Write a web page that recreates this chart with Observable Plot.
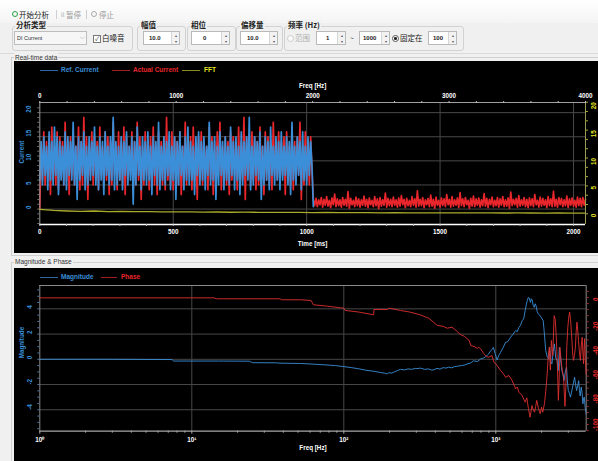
<!DOCTYPE html>
<html><head><meta charset="utf-8">
<script src="https://cdn.jsdelivr.net/npm/d3@7"></script>
<script src="https://cdn.jsdelivr.net/npm/@observablehq/plot@0.6"></script>
<style>
html,body{margin:0;padding:0}
body{width:598px;height:461px;overflow:hidden;background:#f0f0f0;position:relative;font-family:"Noto Sans CJK SC","Liberation Sans",sans-serif}
.a{position:absolute;white-space:nowrap;line-height:10px}
.grp{position:absolute;border:1px solid #d2d2d2;border-radius:3px;top:26px;height:23px}
.gl{position:absolute;top:20px;font-size:7.5px;font-weight:bold;color:#222;background:#f0f0f0;padding:0 1px;line-height:10px;white-space:nowrap}
.spin{position:absolute;top:31px;height:14px;border:1px solid #b9b9b9;background:#fff;box-sizing:border-box}
.spin span{position:absolute;top:1px;font:bold 6px "Liberation Sans",sans-serif;line-height:10px;color:#222}
.spin i{position:absolute;right:0;top:0;width:7px;height:12px;border-left:1px solid #d6d6d6;background:#f2f2f2;font-style:normal;font-size:4px;line-height:6px;text-align:center;color:#555}
.leg{position:absolute;font:bold 6.5px "Liberation Sans",sans-serif;line-height:8px;white-space:nowrap}
.ll{position:absolute;height:1px;width:18px}
</style></head><body>
<!-- toolbar -->
<div class="a" style="left:0;top:0;width:598px;height:23px;background:linear-gradient(#ffffff,#f4f4f4)"></div>
<div class="a" style="left:12px;top:11px;width:4px;height:4px;border:1.5px solid #26a146;border-radius:50%"></div>
<div class="a" style="left:19px;top:9.5px;font-size:7.5px;color:#222">开始分析</div>
<div class="a" style="left:56px;top:10px;width:1px;height:9px;background:#cfcfcf"></div>
<div class="a" style="left:61px;top:9.5px;font-size:6px;color:#aaa">ll</div>
<div class="a" style="left:66px;top:9.5px;font-size:7.5px;color:#999">暂停</div>
<div class="a" style="left:86px;top:10px;width:1px;height:9px;background:#cfcfcf"></div>
<div class="a" style="left:91px;top:11px;width:4px;height:4px;border:1.2px solid #aaa;border-radius:50%"></div>
<div class="a" style="left:99px;top:9.5px;font-size:7.5px;color:#999">停止</div>

<div class="grp" style="left:12px;width:119px"></div>
<div class="gl" style="left:15px">分析类型</div>
<div class="a" style="left:14px;top:31px;width:73px;height:14px;border:1px solid #bdbdbd;background:#f6f6f6;box-sizing:border-box"></div>
<div class="a" style="left:17px;top:33px;font:5.5px 'Liberation Sans',sans-serif;line-height:10px;color:#333">DI Current</div>
<div class="a" style="left:80px;top:32px;font-size:6px;color:#888">⌵</div>
<div class="a" style="left:93px;top:35px;width:6px;height:6px;border:1px solid #777;background:#fff;font-size:6px;line-height:6px;text-align:center;color:#333">✓</div>
<div class="a" style="left:102px;top:33px;font-size:7.5px;color:#222">白噪音</div>

<div class="grp" style="left:137px;width:47px"></div>
<div class="gl" style="left:140px">幅值</div>
<div class="spin" style="left:143px;width:37px"><span style="left:5px">10.0</span><i>▴<br>▾</i></div>

<div class="grp" style="left:187px;width:47px"></div>
<div class="gl" style="left:190px">相位</div>
<div class="spin" style="left:191px;width:39px"><span style="left:11px">0</span><i>▴<br>▾</i></div>

<div class="grp" style="left:236px;width:45px"></div>
<div class="gl" style="left:240px">偏移量</div>
<div class="spin" style="left:240px;width:38px"><span style="left:6px">10.0</span><i>▴<br>▾</i></div>

<div class="grp" style="left:284px;width:178px"></div>
<div class="gl" style="left:287px">频率 (Hz)</div>
<div class="a" style="left:287px;top:35px;width:5px;height:5px;border:1px solid #ccc;border-radius:50%;background:#fafafa"></div>
<div class="a" style="left:295px;top:33px;font-size:7.5px;color:#b0b0b0">范围</div>
<div class="spin" style="left:316px;width:30px"><span style="left:9px">1</span><i>▴<br>▾</i></div>
<div class="a" style="left:350px;top:33px;font-size:7px;color:#444">~</div>
<div class="spin" style="left:359px;width:31px"><span style="left:3px">1000</span><i>▴<br>▾</i></div>
<div class="a" style="left:392px;top:35px;width:5px;height:5px;border:1px solid #555;border-radius:50%;background:#fff"></div>
<div class="a" style="left:394.2px;top:37.2px;width:2.6px;height:2.6px;border-radius:50%;background:#222"></div>
<div class="a" style="left:400px;top:33px;font-size:7.5px;color:#222">固定在</div>
<div class="spin" style="left:428px;width:29px"><span style="left:4px">100</span><i>▴<br>▾</i></div>

<div class="a" style="left:0;top:53px;width:598px;height:1px;background:#dadada"></div>

<!-- panels -->
<div class="a" style="left:11px;top:57px;width:600px;height:199px;border:1px solid #d0d0d0;box-sizing:border-box"></div>
<div class="a" style="left:14px;top:52.5px;font:6.5px 'Liberation Sans',sans-serif;line-height:10px;color:#333;background:#f0f0f0;padding:0 1px">Real-time data</div>
<div class="a" style="left:14px;top:61px;width:584px;height:192px;background:#000"></div>

<div class="a" style="left:11px;top:262px;width:600px;height:210px;border:1px solid #d0d0d0;box-sizing:border-box"></div>
<div class="a" style="left:14px;top:257px;font:6.5px 'Liberation Sans',sans-serif;line-height:10px;color:#333;background:#f0f0f0;padding:0 1px">Magnitude &amp; Phase</div>
<div class="a" style="left:14px;top:268px;width:584px;height:193px;background:#000"></div>

<!-- legends -->
<div class="ll" style="left:40px;top:70px;background:#2d67a3"></div>
<div class="leg" style="left:61px;top:66px;color:#3a8fd8">Ref. Current</div>
<div class="ll" style="left:112px;top:70px;background:#a11f22"></div>
<div class="leg" style="left:133px;top:66px;color:#e8262b">Actual Current</div>
<div class="ll" style="left:182px;top:70px;background:#8a8a22"></div>
<div class="leg" style="left:204px;top:66px;color:#e6e622">FFT</div>

<div class="ll" style="left:40px;top:277px;background:#2d67a3"></div>
<div class="leg" style="left:61px;top:273px;color:#3a8fd8">Magnitude</div>
<div class="ll" style="left:101px;top:277px;width:16px;background:#a11f22"></div>
<div class="leg" style="left:121px;top:273px;color:#e8262b">Phase</div>

<script>
// ---------- Real-time data ----------
const dt = 5; // ms between samples
const refCurrent = [
6,14,5,15,7,13,4,16,6,14,5,17,7,15,3,14,6,13,5,16,
4,15,7,14,6,18,5,13,2,15,6,14,7,16,4,13,5,15,6,14,
7,17,5,13,4,15,6,14,3,16,7,13,5,15,6,19,4,14,5,13,
6,15,4,14,7,16,5,13,6,15,1,14,5,17,7,13,4,15,6,14,
5,16,6,13,3,15,7,14,5,18,4,13,6,15,5,14,7,16,4,13,
6,15,2,14,5,16,7,13,4,15,6,17,5,14,6,13,3,15,7,16,
5,14,6,15,4,13,7,18,5,14,6,15,2,13,5,16,7,14,4,15,
6,13,5,17,7,14,4,15,6,13,3,16,5,14,7,15,6,19,4,13,
5,15,7,14,6,16,2,13,5,15,6,14,4,17,7,13,5,15,6,14,
4,16,6,13,7,15,5,14,3,18,6,13,5,15,7,14,4,16,6,13,
5,15,7,14,9,0.5];
const actualHigh = [
0,13,6,16,5,14,7,15,3,17,6,13,5,16,4,15,7,14,5,18,
6,14,3,15,7,16,5,13,6,17,4,14,5,19,6,15,2,13,7,16,
5,15,6,14,4,17,7,13,5,16,6,15,3,14,5,18,7,13,4,16,
6,14,5,17,3,15,6,13,7,16,4,14,5,18,6,15,2,13,5,16,
7,14,4,15,6,17,5,13,3,16,7,14,5,15,4,19,6,13,5,16,
4,15,7,14,5,16,3,13,6,18,5,14,7,15,4,17,6,13,2,15,
6,16,5,14,7,13,4,17,6,15,3,14,5,16,7,18,4,13,6,15,
5,14,3,16,6,15,7,13,4,17,5,14,6,19,2,15,7,13,5,16,
6,15,4,14,5,17,7,13,3,16,6,15,5,14,4,18,7,13,6,16,
5,14,7,15,3,16,6,13,5,17,4,14,6,15,7,18,2,13,5,16,
6,14,5,15,8,2];
const actualLow = [
0.7,2.2,0.5,1.9,0.9,2.4,0.4,2.0,0.8,2.6,0.6,1.8,0.3,2.3,0.9,3.1,0.5,2.1,0.7,1.9,
0.4,2.4,0.8,2.0,0.6,3.6,0.2,2.2,0.9,1.8,0.5,2.5,0.7,2.1,0.4,1.9,0.8,2.7,0.6,2.0,
0.3,2.3,0.9,1.8,0.5,2.6,0.7,2.1,0.1,2.4,0.6,1.9,0.8,3.3,0.4,2.2,0.7,2.0,0.5,2.5,
0.8,1.9,0.4,2.3,0.6,2.8,0.9,2.0,0.3,2.2,0.7,1.8,0.5,2.6,0.8,2.1,0.4,3.8,0.6,2.0,
0.7,2.4,0.3,1.9,0.9,2.2,0.5,2.9,0.6,2.0,0.2,2.5,0.8,1.8,0.4,2.3,0.7,2.1,0.5,3.0,
0.9,2.0,0.4,2.6,0.6,1.9,0.8,2.3,0.3,3.4,0.7,2.1,0.5,2.4,0.9,1.8,0.2,2.2,0.6,2.7,
0.5,2.1,0.8,2.3,0.4,1.9,0.7,3.2,0.6,2.2,0.3,2.0,0.9,2.5,0.5,1.8,0.7,2.4,0.4,2.1,
0.8,2.6,0.5,1.9,0.6,2.3,0.2,3.5,0.7,2.0,0.9,2.2,0.4,2.8,0.6,1.9,0.8,2.4,0.5,2.0,
0.3,2.3,0.7,2.1,0.5,3.0,0.9,1.8,0.4,2.5,0.6,2.2,0.8,1.9,0.3,2.6,0.7,2.1,0.5,3.7,
0.6,2.0,0.4,2.4,0.9,2.2,0.5,1.9,0.7,2.7,0.3,2.1,0.8,2.3,0.6,1.8,0.4,2.5,0.7,2.2,
0.5,2.4,0.8,2.0];
const fftStep = 100; // Hz between FFT bins
const fftValues = [0.8,0.6,0.5,0.45,0.5,0.4,0.42,0.38,0.4,0.35,0.36,0.33,0.3,0.32,0.28,0.3,0.27,0.25,0.26,0.24,0.22,0.23,0.2,0.21,0.2,0.18,0.19,0.17,0.18,0.16,0.17,0.15,0.16,0.15,0.14,0.15,0.14,0.13,0.14,0.13,0.12];
const timeTicks = [0,500,1000,1500,2000];
const currentTicks = [0,5,10,15,20];
const freqTicks = [0,1000,2000,3000,4000];
const fftTicks = [0,5,10,15,20];

// ---------- Magnitude & Phase ----------
const magFreq = [1,3,7.4,7.6,15,24,25,36,37,45,52,62,75,88,100,112,125,142,158,175,186,193,198,205,215,225,236,250,265,280,295,303,320,340,360,380,392,410,430,450,470,490,512,535,560,595,620,648,680,716,755,795,830,858,895,926,950,964,990,1020,1045,1075,1110,1160,1200,1250,1300,1350,1385,1420,1455,1490,1525,1560,1585,1610,1635,1660,1690,1712,1735,1760,1790,1815,1840,1870,1900,1945,1990,2050,2080,2130,2180,2230,2260,2300,2340,2385,2430,2480,2530,2575,2620,2670,2720,2765,2810,2865,2920,2960,3000,3050,3100,3150,3200,3250,3300,3350,3400,3455,3510,3550,3590,3650,3700,3740,3780,3820,3870,3930];
const magnitude = [0,0,-0.02,-0.14,-0.14,-0.15,-0.27,-0.28,-0.3,-0.32,-0.33,-0.38,-0.44,-0.5,-0.58,-0.66,-0.75,-0.88,-0.95,-1.05,-1.1,-1.16,-1.05,-1.1,-1.0,-0.9,-0.8,-0.84,-0.76,-0.8,-0.72,-0.74,-0.7,-0.8,-0.76,-0.86,-0.82,-0.72,-0.78,-0.66,-0.7,-0.62,-0.68,-0.58,-0.55,-0.5,-0.46,-0.37,-0.3,-0.12,-0.18,0.03,0.1,0.21,0.4,0.69,0.8,0.95,0.45,-0.05,0.3,0.55,0.85,1.35,1.4,1.74,2.0,2.27,2.2,2.53,2.7,3.06,3.2,3.85,4.3,4.65,4.9,4.86,4.51,4.8,4.7,4.3,4.12,4.4,4.25,3.8,3.6,3.5,3.33,3.06,2.27,0.69,0.2,0.03,0.95,-0.2,-0.37,0.6,1.22,0.1,-0.1,-0.9,0.95,0.0,-0.9,-1.2,-1.69,-1.0,-0.63,-1.8,-2.48,-2.7,-3.0,-2.6,-2.2,-1.8,-1.43,-2.0,-2.48,-2.1,-1.69,-2.5,-2.9,-2.2,-2.7,-3.53,-3.1,-3.0,-3.8,-4.3];
const phaseFreq = [1,14,14.5,38,39,52,61,63,78,95,100,102,125,157,158,193,198,236,273,318,364,412,450,479,515,550,583,620,668,684,720,755,772,800,835,870,900,945,970,1000,1020,1075,1120,1160,1220,1280,1350,1385,1420,1490,1525,1560,1600,1640,1680,1730,1765,1800,1830,1860,1910,1960,2000,2035,2090,2130,2170,2210,2250,2285,2320,2370,2420,2460,2500,2540,2580,2610,2640,2680,2720,2790,2850,2890,2930,2975,3020,3060,3100,3150,3200,3240,3290,3340,3380,3420,3460,3500,3550,3600,3650,3700,3740,3780,3810,3840,3880,3930];
const phase = [-0.3,-0.3,-1.1,-1.1,-1.9,-1.9,-2.5,-6,-7.2,-8.5,-8.8,-10.7,-12,-14.3,-9.9,-9.9,-8.8,-10.7,-12.1,-14.3,-17.3,-23.1,-23.8,-25.4,-24.5,-27.5,-30.5,-32,-35.5,-39.7,-40.5,-42,-41,-43,-46.5,-49,-49.3,-48,-53.5,-54.8,-56.2,-60.3,-63,-65.9,-64.5,-68.6,-75.5,-74,-78.3,-81,-84,-86.5,-83,-92,-98.9,-89.3,-93,-94.8,-90,-85,-92,-96,-90.6,-94.8,-87.8,-78,-65.9,-50,-41,-60,-35.5,-48,-15,-18,-32.8,-55,-85,-68.6,-41,-50,-57.6,-66,-90,-74.1,-41,-25,-16.3,-12.1,-18,-30,-45,-52,-48,-41,-28,-20.4,-27,-35.5,-45,-52,-40,-32.8,-45,-54.8,-42,-34,-50,-63.3];
const magTicks = [-4,-2,0,2,4];
const phaseTicks = [0,-20,-40,-60,-80,-100];
const decadeTicks = [1,10,100,1000];
const decadeLabels = ["10⁰","10¹","10²","10³"];

// ---------- drawing ----------
const blue = "#3a8fd8", red = "#e8262b", yellowTxt = "#e6e622", gridC = "#484848";
const font = {fontFamily:"'Liberation Sans', Arial, sans-serif", fontSize:"6.3px", fontWeight:"bold", background:"transparent", overflow:"visible", maxWidth:"none"};
function place(svg, left, top){ svg.style.position="absolute"; svg.style.left=left+"px"; svg.style.top=top+"px"; document.body.appendChild(svg); }

const refRows = refCurrent.map((v,i)=>({t:i*dt, v}));
const actRows = actualHigh.concat(actualLow).map((v,i)=>({t:i*dt, v}));
const fftRows = fftValues.map((v,i)=>({f:i*fftStep, v}));
const magRows = magFreq.map((f,i)=>({f, v:magnitude[i]}));
const phRows = phaseFreq.map((f,i)=>({f, v:phase[i]}));

const top1 = {width:584, height:192, marginLeft:25.3, marginRight:13, marginTop:41, marginBottom:29};
const tDom=[0,2045], cDom=[-3.2,22.1];
const tb = Plot.plot({...top1, style:font,
  x:{domain:tDom, axis:null}, y:{domain:cDom, axis:null},
  marks:[
    Plot.ruleY(currentTicks,{stroke:gridC}),
    Plot.ruleX(timeTicks.filter(d=>d>0),{stroke:gridC}),
    Plot.line(actRows,{x:"t",y:"v",stroke:red,strokeWidth:1.7}),
    Plot.line(refRows,{x:"t",y:"v",stroke:blue,strokeWidth:1.7}),
    Plot.ruleX([tDom[0]],{stroke:"#9a9a9a"}),
    Plot.ruleY([cDom[1]],{stroke:"#a0a0a0"}),
    Plot.ruleY([cDom[0]],{stroke:"#ffffff",strokeWidth:1.4}),
    Plot.axisX(d3.range(0,2001,100),{anchor:"bottom",tickSize:2,tickFormat:()=>"",stroke:"#bbb",label:null}),
    Plot.axisY(d3.range(-3,22,1),{anchor:"left",tickSize:2,tickFormat:()=>"",stroke:"#777",label:null}),
    Plot.text(timeTicks,{x:d=>d,text:d=>String(d),frameAnchor:"bottom",dy:9,fill:"#fff"}),
    Plot.text(["Time [ms]"],{text:d=>d,frameAnchor:"bottom",dy:21,fill:"#fff"}),
    Plot.text(currentTicks,{y:d=>d,text:d=>String(d),frameAnchor:"left",dx:-10.6,rotate:-90,fill:blue}),
    Plot.text(["Current"],{text:d=>d,frameAnchor:"left",dx:-17.5,rotate:-90,fill:blue})
  ]});
place(tb,14,61);

const fb = Plot.plot({...top1, style:font,
  x:{domain:[0,4000], axis:null}, y:{domain:[-1.92,19.95], axis:null},
  marks:[
    Plot.line(fftRows,{x:"f",y:"v",stroke:"#a9a92a",strokeWidth:1.3}),
    Plot.ruleX([4000],{stroke:"#9a9a50"}),
    Plot.axisY(d3.range(0,20.1,5/3),{anchor:"right",tickSize:2,tickFormat:()=>"",stroke:"#a8a830",label:null}),
    Plot.axisX(d3.range(0,4001,200),{anchor:"top",tickSize:2,tickFormat:()=>"",stroke:"#bbb",label:null}),
    Plot.text(fftTicks,{y:d=>d,text:d=>String(d),frameAnchor:"right",dx:8.5,rotate:-90,fill:yellowTxt}),
    Plot.text(freqTicks,{x:d=>d,text:d=>String(d),frameAnchor:"top",dy:-9,fill:"#fff"}),
    Plot.text(["Freq [Hz]"],{text:d=>d,frameAnchor:"top",dy:-19.3,fill:"#fff"})
  ]});
place(fb,14,61);

const bot = {width:584, height:193, marginLeft:25.3, marginRight:12.3, marginTop:17, marginBottom:30.3};
const fDom=[1,3933], mDom=[-5.7,5.85], pDom=[-110.5,9.9];
const minorLog = [];
for (const d of [1,10,100,1000]) for (let k=2;k<10;k++) if (d*k<3933) minorLog.push(d*k);
const mb = Plot.plot({...bot, style:font,
  x:{type:"log", domain:fDom, axis:null}, y:{domain:mDom, axis:null},
  marks:[
    Plot.ruleY(magTicks,{stroke:gridC}),
    Plot.ruleX([10,100,1000],{stroke:gridC}),
    Plot.line(magRows,{x:"f",y:"v",stroke:blue,strokeWidth:0.9}),
    Plot.ruleX([fDom[0]],{stroke:"#8a8a8a"}),
    Plot.ruleX([fDom[1]],{stroke:"#8a8a8a"}),
    Plot.ruleY([mDom[1]],{stroke:"#8a8a8a"}),
    Plot.ruleY([mDom[0]],{stroke:"#a8a8a8",strokeWidth:1.3}),
    Plot.axisX(minorLog,{anchor:"bottom",tickSize:2,tickFormat:()=>"",stroke:"#aaa",label:null}),
    Plot.axisX(decadeTicks,{anchor:"bottom",tickSize:3,tickFormat:()=>"",stroke:"#aaa",label:null}),
    Plot.axisY(d3.range(-5.5,5.6,0.5),{anchor:"left",tickSize:2,tickFormat:()=>"",stroke:"#4a78a8",label:null}),
    Plot.text(decadeTicks,{x:d=>d,text:(d,i)=>decadeLabels[i],frameAnchor:"bottom",dy:10.3,fill:"#fff"}),
    Plot.text(["Freq [Hz]"],{text:d=>d,frameAnchor:"bottom",dy:19,fill:"#fff"}),
    Plot.text(magTicks,{y:d=>d,text:d=>String(d),frameAnchor:"left",dx:-10,rotate:-90,fill:blue}),
    Plot.text(["Magnitude"],{text:d=>d,frameAnchor:"left",dx:-17.5,rotate:-90,fill:blue})
  ]});
place(mb,14,268);

const pb = Plot.plot({...bot, style:font,
  x:{type:"log", domain:fDom, axis:null}, y:{domain:pDom, axis:null},
  marks:[
    Plot.line(phRows,{x:"f",y:"v",stroke:"#e03030",strokeWidth:0.9}),
    Plot.axisY(d3.range(-110,10,5),{anchor:"right",tickSize:2,tickFormat:()=>"",stroke:"#a03030",label:null}),
    Plot.text(phaseTicks,{y:d=>d,text:d=>String(d),frameAnchor:"right",dx:9.3,rotate:-90,fill:red})
  ]});
place(pb,14,268);
</script>
</body></html>
